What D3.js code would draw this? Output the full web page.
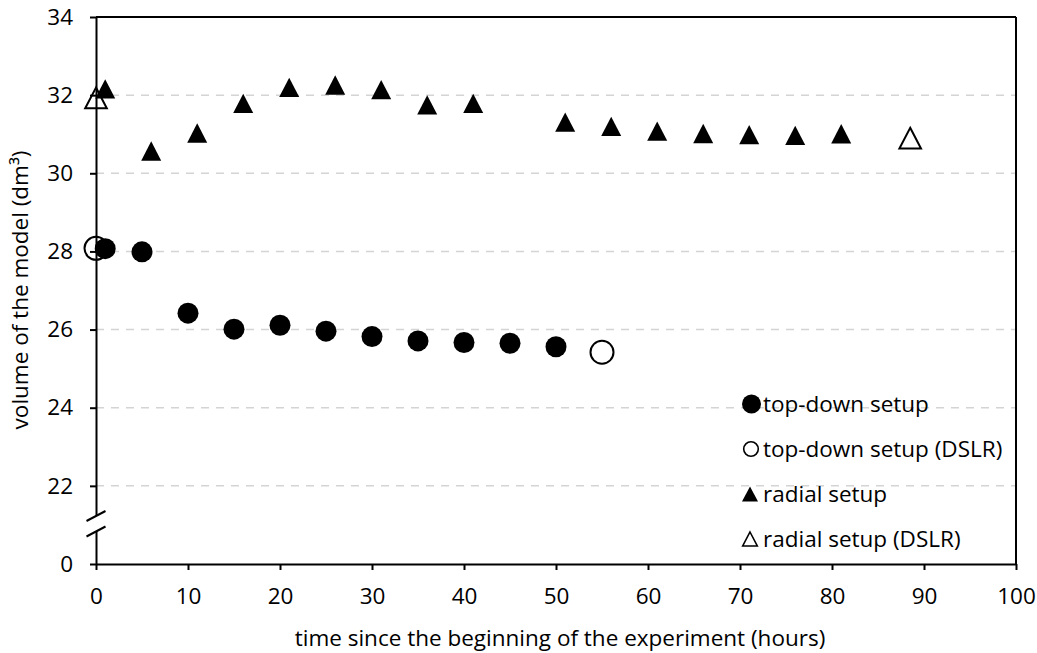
<!DOCTYPE html>
<html>
<head>
<meta charset="utf-8">
<script src="https://cdn.jsdelivr.net/npm/d3@7"></script>
<style>
  html, body { margin: 0; padding: 0; background: #fff; }
  svg text { font-family: "Open Sans", "DejaVu Sans", sans-serif; fill: #000; }
</style>
</head>
<body>
<svg id="chart" width="1037" height="653"></svg>
<script>
// ---- data ----
const topDownT = [1, 5, 10, 15, 20, 25, 30, 35, 40, 45, 50];
const topDownV = [28.07, 27.99, 26.42, 26.01, 26.11, 25.96, 25.82, 25.71, 25.67, 25.65, 25.56];
const topDownDslrT = [0, 55];
const topDownDslrV = [28.08, 25.42];
const radialT = [1, 6, 11, 16, 21, 26, 31, 36, 41, 51, 56, 61, 66, 71, 76, 81];
const radialV = [32.16, 30.57, 31.03, 31.79, 32.2, 32.26, 32.14, 31.75, 31.79, 31.31, 31.2, 31.08, 31.02, 30.99, 30.97, 31.01];
const radialDslrT = [0, 88.5];
const radialDslrV = [31.93, 30.9];
const xTicks = [0, 10, 20, 30, 40, 50, 60, 70, 80, 90, 100];
// y axis is broken: the value 20 position is labelled "0"
const yTicks = [20, 22, 24, 26, 28, 30, 32, 34];
const yTickLabels = ["0", "22", "24", "26", "28", "30", "32", "34"];
const gridValues = [22, 24, 26, 28, 30, 32];
const legendLabels = ["top-down setup", "top-down setup (DSLR)", "radial setup", "radial setup (DSLR)"];
const xTitle = "time since the beginning of the experiment (hours)";
const yTitle = "volume of the model (dm³)";

(function () {
// ---- layout ----
const pl = 96, pr = 1016, pt = 17, pb = 564;
const svg = d3.select("#chart");
const x = d3.scaleLinear().domain([0, 100]).range([pl, pr]);
const y = d3.scaleLinear().domain([20, 34]).range([pb, pt]);

const FONT = 22.5;

// gridlines
svg.append("g").selectAll("line").data(gridValues).join("line")
  .attr("x1", pl).attr("x2", pr)
  .attr("y1", d => y(d)).attr("y2", d => y(d))
  .attr("stroke", "#d4d4d4").attr("stroke-width", 1.5)
  .attr("stroke-dasharray", "8,7");

// markers
const triUp = (s, h) => `M0,${-h} L${s},${h} L${-s},${h} Z`;

const gOpen = svg.append("g");
gOpen.selectAll("circle").data(topDownDslrT.map((t, i) => [t, topDownDslrV[i]])).join("circle")
  .attr("cx", d => x(d[0])).attr("cy", d => y(d[1])).attr("r", 11.5)
  .attr("fill", "#fff").attr("stroke", "#000").attr("stroke-width", 2);
gOpen.selectAll("path").data(radialDslrT.map((t, i) => [t, radialDslrV[i]])).join("path")
  .attr("transform", d => `translate(${x(d[0])},${y(d[1])})`)
  .attr("d", triUp(10.8, 10.3))
  .attr("fill", "#fff").attr("stroke", "#000").attr("stroke-width", 2).attr("stroke-linejoin", "miter");

const gFill = svg.append("g");
gFill.selectAll("circle").data(topDownT.map((t, i) => [t, topDownV[i]])).join("circle")
  .attr("cx", d => x(d[0])).attr("cy", d => y(d[1])).attr("r", 10.5)
  .attr("fill", "#000");
gFill.selectAll("path").data(radialT.map((t, i) => [t, radialV[i]])).join("path")
  .attr("transform", d => `translate(${x(d[0])},${y(d[1])})`)
  .attr("d", triUp(10, 9.7))
  .attr("fill", "#000");

// frame (top and right)
svg.append("line").attr("x1", pl).attr("x2", pr).attr("y1", pt).attr("y2", pt)
  .attr("stroke", "#000").attr("stroke-width", 2);
svg.append("line").attr("x1", pr).attr("x2", pr).attr("y1", pt).attr("y2", pb)
  .attr("stroke", "#000").attr("stroke-width", 2);

// x axis
const xAxis = svg.append("g").attr("transform", `translate(0,${pb})`)
  .call(d3.axisBottom(x).tickValues(xTicks).tickSize(6).tickSizeOuter(0).tickPadding(18));
xAxis.select(".domain").attr("stroke", "#000").attr("stroke-width", 2);
xAxis.selectAll(".tick line").attr("stroke", "#000").attr("stroke-width", 2);
xAxis.selectAll(".tick text").style("font-size", FONT + "px").attr("fill", "#000")
  .style("font-family", '"Open Sans", sans-serif');

// y axis
const yAxis = svg.append("g").attr("transform", `translate(${pl},0)`)
  .call(d3.axisLeft(y).tickValues(yTicks).tickSize(6).tickSizeOuter(0).tickPadding(17)
    .tickFormat((d, i) => yTickLabels[i]));
yAxis.select(".domain").attr("stroke", "#000").attr("stroke-width", 2);
yAxis.selectAll(".tick line").attr("stroke", "#000").attr("stroke-width", 2);
yAxis.selectAll(".tick text").style("font-size", FONT + "px").attr("fill", "#000")
  .style("font-family", '"Open Sans", sans-serif');

// axis break
svg.append("rect").attr("x", pl - 3).attr("y", 516).attr("width", 6).attr("height", 15).attr("fill", "#fff");
[[521, 511], [536.5, 526.5]].forEach(([y1, y2]) => {
  svg.append("line").attr("x1", pl - 9.5).attr("y1", y1).attr("x2", pl + 9.5).attr("y2", y2)
    .attr("stroke", "#000").attr("stroke-width", 2);
});

// axis titles
svg.append("text").attr("x", (pl + pr) / 2 + 4).attr("y", 646)
  .attr("text-anchor", "middle").style("font-size", FONT + "px").text(xTitle);
svg.append("text").attr("transform", `translate(28,290) rotate(-90)`)
  .attr("text-anchor", "middle").style("font-size", FONT + "px").text(yTitle);

// legend
const legendY = [404, 449, 494, 539];
const lg = svg.append("g");
legendLabels.forEach((lab, i) => {
  const cy = legendY[i];
  if (i === 0) lg.append("circle").attr("cx", 751.5).attr("cy", cy).attr("r", 9.5).attr("fill", "#000");
  if (i === 1) lg.append("circle").attr("cx", 751).attr("cy", cy).attr("r", 7.3).attr("fill", "#fff").attr("stroke", "#000").attr("stroke-width", 1.6);
  if (i === 2) lg.append("path").attr("transform", `translate(750,${cy})`).attr("d", triUp(8, 7.5)).attr("fill", "#000");
  if (i === 3) lg.append("path").attr("transform", `translate(750,${cy})`).attr("d", triUp(7.3, 7)).attr("fill", "#fff").attr("stroke", "#000").attr("stroke-width", 1.6);
  lg.append("text").attr("x", 763).attr("y", cy).attr("dy", "0.35em")
    .style("font-size", FONT + "px").text(lab);
});
})();
</script>
</body>
</html>
